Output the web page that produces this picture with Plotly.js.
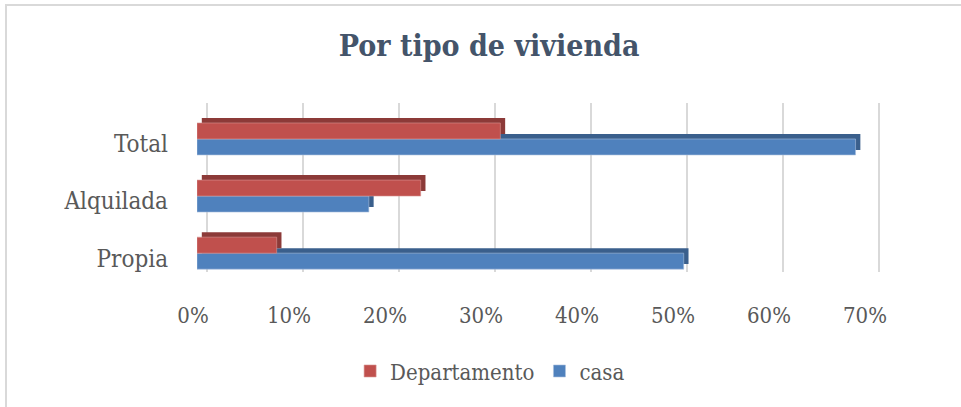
<!DOCTYPE html>
<html>
<head>
<meta charset="utf-8">
<script src="https://cdn.plot.ly/plotly-3.0.1.min.js"></script>
<style>
  html, body { margin: 0; padding: 0; background: #ffffff; overflow: hidden; }
  #chart { position: absolute; left: 0; top: 0; width: 961px; height: 407px; }
  #frame { position: absolute; left: 5px; top: 4px; width: 2000px; height: 2000px;
           border-left: 2px solid #d9d9d9; border-top: 2px solid #d9d9d9; pointer-events: none; }
</style>
</head>
<body>
<div id="chart"></div>
<div id="frame"></div>
<script>
// ---- data ----
const categories = ['Propia', 'Alquilada', 'Total'];
const departamento = [8.3, 23.3, 31.6];
const casa = [50.7, 17.9, 68.6];
const tickValues = [0, 10, 20, 30, 40, 50, 60, 70];
const tickLabels = ['0%', '10%', '20%', '30%', '40%', '50%', '60%', '70%'];
const seriesNames = ['Departamento', 'casa'];

// ---- styling ----
const FONT = 'DejaVu Serif Condensed, Liberation Serif, serif';
const RED = '#C0504D', RED_DARK = '#8C3A38';
const BLUE = '#4F81BD', BLUE_DARK = '#3A5F8C';
const barW = 0.28;
const depthY = 0.088;
const depthX = 0.5;

const common = { type: 'bar', orientation: 'h', y: categories, width: barW, hoverinfo: 'skip' };

const traces = [
  Object.assign({}, common, { x: casa, base: depthX, offset: -barW + depthY,
    marker: { color: BLUE_DARK }, showlegend: false, name: 'casa-depth' }),
  Object.assign({}, common, { x: departamento, base: depthX, offset: depthY,
    marker: { color: RED_DARK }, showlegend: false, name: 'dep-depth' }),
  Object.assign({}, common, { x: casa, offset: -barW, name: seriesNames[1], legendrank: 2,
    marker: { color: BLUE, line: { color: '#a9c0de', width: 0.6 } } }),
  Object.assign({}, common, { x: departamento, offset: 0, name: seriesNames[0], legendrank: 1,
    marker: { color: RED, line: { color: '#d99694', width: 0.6 } } }),
  { type: 'scatter', x: tickValues, y: tickValues.map(() => categories[0]), xaxis: 'x2',
    mode: 'markers', marker: { opacity: 0 }, showlegend: false, hoverinfo: 'skip' }
];

const pxPer10 = 96;
const plotLeft = 197, plotRight = 900;
const span = (plotRight - plotLeft) / (pxPer10 / 10);
const backShift = 10 / (pxPer10 / 10);

const layout = {
  width: 961, height: 407,
  margin: { l: plotLeft, r: 961 - plotRight, t: 103, b: 135 },
  paper_bgcolor: '#ffffff', plot_bgcolor: 'rgba(0,0,0,0)',
  font: { family: FONT, color: '#595959' },
  title: { text: '<b>Por tipo de vivienda</b>', x: 0.509, xanchor: 'center', y: 0.888, yanchor: 'middle',
           font: { family: FONT, size: 30, color: '#44546A' } },
  barmode: 'overlay',
  xaxis: { range: [0, span], tickmode: 'array', tickvals: tickValues, ticktext: tickLabels,
           showgrid: false, zeroline: false, showline: false, ticks: '', ticklabelshift: -4, ticklabelstandoff: 28,
           tickfont: { family: FONT, size: 22, color: '#595959' }, fixedrange: true },
  xaxis2: { overlaying: 'x', range: [-backShift, span - backShift], tickvals: tickValues,
            showticklabels: false, showgrid: true, gridcolor: '#d9d9d9', gridwidth: 2,
            zeroline: false, showline: false, ticks: '', side: 'bottom' },
  yaxis: { type: 'category', categoryorder: 'array', categoryarray: categories,
           range: [-0.33, 2.63], showgrid: false, zeroline: false, showline: false, ticks: '',
           ticklabelstandoff: 28, ticklabelshift: 5, tickfont: { family: FONT, size: 24, color: '#595959' } },
  legend: { orientation: 'h', xref: 'container', yref: 'container', x: 0.51, xanchor: 'center',
            y: 0.088, yanchor: 'middle', font: { family: FONT, size: 22, color: '#595959' }, traceorder: 'normal' },
  showlegend: true
};

Plotly.newPlot('chart', traces, layout, { staticPlot: true, displayModeBar: false });
</script>
</body>
</html>
